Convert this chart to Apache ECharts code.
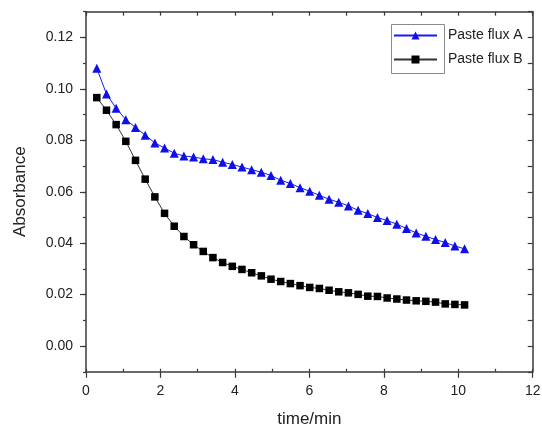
<!DOCTYPE html>
<html>
<head>
<meta charset="utf-8">
<script src="https://cdn.jsdelivr.net/npm/echarts@6/dist/echarts.min.js"></script>
<style>
html,body{margin:0;padding:0;background:#fff;}
#chart{width:542px;height:430px;}
</style>
</head>
<body>
<div id="chart"></div>
<script>
// time in minutes
var timeMin = [0.29, 0.55, 0.81, 1.07, 1.33, 1.59, 1.85, 2.11, 2.37, 2.63, 2.89, 3.15, 3.41, 3.67, 3.93,
  4.19, 4.45, 4.71, 4.97, 5.23, 5.49, 5.75, 6.01, 6.27, 6.53, 6.79, 7.05, 7.31, 7.57, 7.83,
  8.09, 8.35, 8.61, 8.87, 9.13, 9.39, 9.65, 9.91, 10.17];
var fluxA = [0.108, 0.098, 0.0925, 0.088, 0.085, 0.082, 0.079, 0.077, 0.075, 0.0739, 0.0735, 0.0728, 0.0725,
  0.0715, 0.0706, 0.0696, 0.0686, 0.0676, 0.0663, 0.0645, 0.0632, 0.0616, 0.0602, 0.0586, 0.0571,
  0.0559, 0.0545, 0.0528, 0.0515, 0.050, 0.0488, 0.0474, 0.0457, 0.0440, 0.0427, 0.0414, 0.0403,
  0.0389, 0.0378];
var fluxB = [0.0966, 0.0917, 0.0861, 0.0796, 0.0722, 0.0649, 0.0580, 0.0516, 0.0466, 0.0426, 0.0394, 0.0368,
  0.0344, 0.0325, 0.0310, 0.0298, 0.0285, 0.0273, 0.0260, 0.0251, 0.0243, 0.0235, 0.0228, 0.0224,
  0.0217, 0.0211, 0.0207, 0.0201, 0.0194, 0.0193, 0.0187, 0.0183, 0.0179, 0.0176, 0.0174, 0.0171,
  0.0164, 0.0162, 0.0160];
var yMajorTicks = [0, 0.02, 0.04, 0.06, 0.08, 0.10, 0.12];
var seriesNames = ['Paste flux A', 'Paste flux B'];
var xTitle = 'time/min';
var yTitle = 'Absorbance';

function pairs(xs, ys) { return xs.map(function (x, i) { return [x, ys[i]]; }); }

var axisColor = '#3a3a3a';
var font = 'Liberation Sans, Arial, sans-serif';

var chart = echarts.init(document.getElementById('chart'), null, {renderer: 'canvas'});
chart.setOption({
  animation: false,
  backgroundColor: '#fff',
  grid: {left: 86, right: 9.3, top: 11.7, bottom: 58.2, containLabel: false, outerBoundsMode: 'none'},
  legend: {
    orient: 'vertical', left: 388, top: 23.5, itemWidth: 43, itemHeight: 10, itemGap: 10,
    data: seriesNames,
    textStyle: {fontFamily: font, fontSize: 14, color: '#222', lineHeight: 14, padding: [0, 0, 0, 6]}
  },
  graphic: [{
    type: 'rect', left: 389, top: 22, silent: true,
    shape: {width: 53, height: 49},
    style: {fill: 'none', stroke: '#8a8a8a', lineWidth: 1}
  }],
  xAxis: [
    {
      type: 'value', position: 'bottom', min: 0, max: 12, interval: 2,
      name: xTitle, nameLocation: 'middle', nameGap: 39,
      nameTextStyle: {fontFamily: font, fontSize: 17, color: '#222'},
      axisLine: {show: true, onZero: false, lineStyle: {color: axisColor, width: 1.5}},
      axisTick: {show: true, inside: false, length: 6, lineStyle: {color: axisColor, width: 1.2}},
      axisLabel: {fontFamily: font, fontSize: 14, color: '#222', margin: 12},
      splitLine: {show: false}
    },
    {
      type: 'value', position: 'bottom', min: 0, max: 12, interval: 1,
      axisLine: {show: false, onZero: false},
      axisTick: {show: true, inside: true, length: 3, lineStyle: {color: axisColor, width: 1.2}},
      axisLabel: {show: false}, splitLine: {show: false}
    },
    {
      type: 'value', position: 'top', min: 0, max: 12, interval: 1,
      axisLine: {show: true, onZero: false, lineStyle: {color: axisColor, width: 1.5}},
      axisTick: {show: true, inside: true, length: 4, lineStyle: {color: axisColor, width: 1.2}},
      axisLabel: {show: false}, splitLine: {show: false}
    }
  ],
  yAxis: [
    {
      type: 'value', position: 'left', min: -0.01, max: 0.13,
      name: yTitle, nameLocation: 'middle', nameGap: 57,
      nameTextStyle: {fontFamily: font, fontSize: 17, color: '#222'},
      axisLine: {show: true, onZero: false, lineStyle: {color: axisColor, width: 1.5}},
      axisTick: {show: true, inside: false, length: 6, customValues: yMajorTicks, lineStyle: {color: axisColor, width: 1.2}},
      axisLabel: {fontFamily: font, fontSize: 14, color: '#222', margin: 13, customValues: yMajorTicks,
        formatter: function (v) { return v.toFixed(2); }},
      splitLine: {show: false}
    },
    {
      type: 'value', position: 'left', min: -0.01, max: 0.13, interval: 0.01,
      axisLine: {show: false, onZero: false},
      axisTick: {show: true, inside: false, length: 3, lineStyle: {color: axisColor, width: 1.2}},
      axisLabel: {show: false}, splitLine: {show: false}
    },
    {
      type: 'value', position: 'right', min: -0.01, max: 0.13, interval: 0.01,
      axisLine: {show: true, onZero: false, lineStyle: {color: axisColor, width: 1.5}},
      axisTick: {show: true, inside: true, length: 5, lineStyle: {color: axisColor, width: 1.2}},
      axisLabel: {show: false}, splitLine: {show: false}
    }
  ],
  series: [
    {
      name: seriesNames[0], type: 'line', xAxisIndex: 0, yAxisIndex: 0,
      data: pairs(timeMin, fluxA),
      symbol: 'triangle', symbolSize: 9,
      lineStyle: {color: '#1a1aee', width: 1},
      itemStyle: {color: '#0f0fe8'}
    },
    {
      name: seriesNames[1], type: 'line', xAxisIndex: 0, yAxisIndex: 0,
      data: pairs(timeMin, fluxB),
      symbol: 'rect', symbolSize: 7.5,
      lineStyle: {color: '#333', width: 1},
      itemStyle: {color: '#000'}
    }
  ]
});
</script>
</body>
</html>
